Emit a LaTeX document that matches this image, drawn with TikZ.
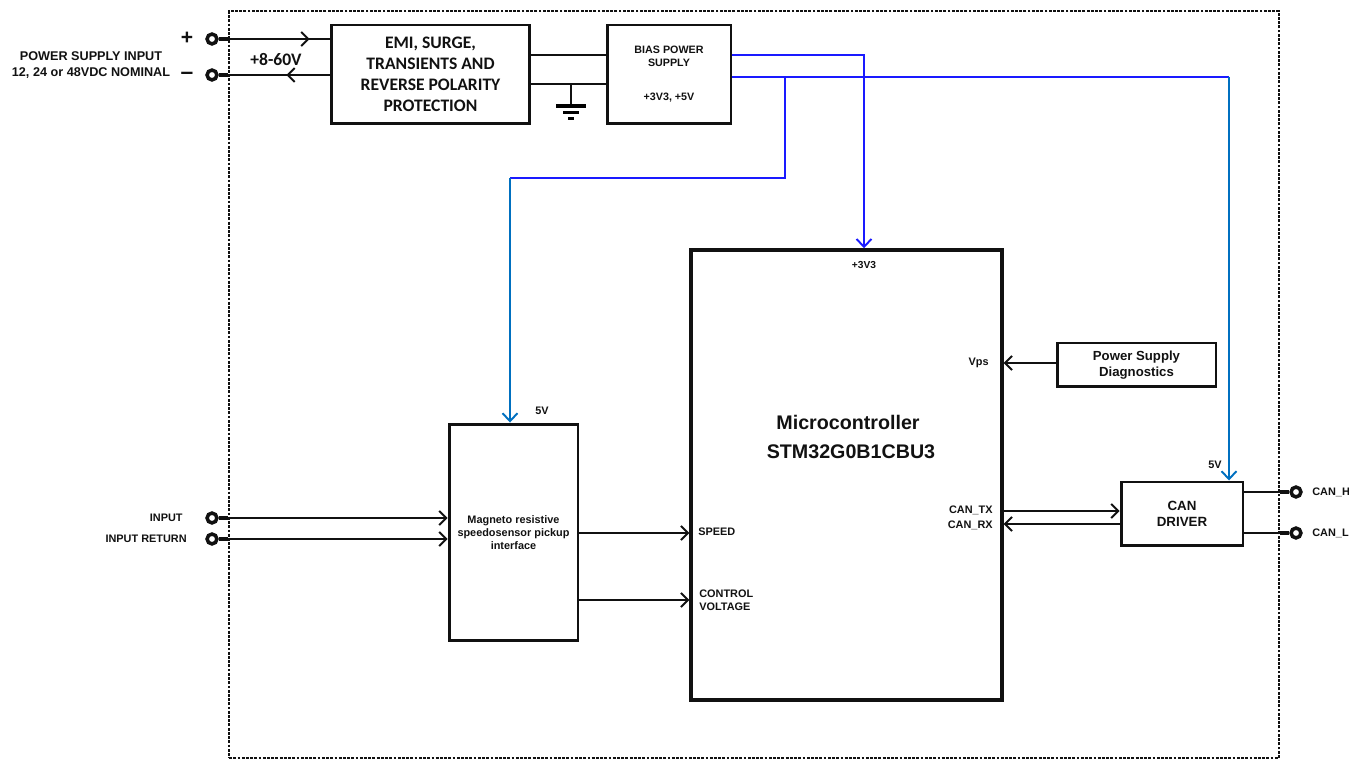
\documentclass[tikz,border=0pt]{standalone}
\usepackage{fontspec}
\setmainfont{Liberation Sans}
\newfontfamily\calfont{Carlito}
\usepackage{tikz}
\usetikzlibrary{arrows.meta,positioning,decorations.markings}
\definecolor{wireblue}{HTML}{1A1AFF}
\definecolor{railblue}{HTML}{0070C0}
\definecolor{ink}{HTML}{111111}
\newcommand{\fsz}[2]{\fontsize{#1}{#2}\selectfont}
\tikzset{
  blk/.style={draw=ink,line width=1.7pt,inner sep=0pt,align=center,text=ink},
  frame/.style={draw=ink,line width=0.7pt,dash pattern=on 1.6pt off 0.8pt},
  wire/.style={draw=ink,line width=1.1pt},
  flow/.style={wire,-{Straight Barb[length=4pt,width=8pt]}},
  pwr/.style={draw=wireblue,line width=1.1pt},
  pwrarrow/.style={pwr,-{Straight Barb[length=4.5pt,width=8.5pt]}},
  term/.style={circle,draw=ink,fill=white,line width=2pt,minimum size=5.6pt,inner sep=0pt},
  stub/.style={draw=ink,line width=2pt},
  midarrow/.style={postaction={decorate,decoration={markings,
    mark=at position #1 with {\arrow{Straight Barb[length=4pt,width=8pt]}}}}},
  lbl/.style={font=\bfseries\fsz{6.2}{7.4},text=ink,inner sep=0pt,align=center},
}

\begin{document}
\begin{tikzpicture}[x=0.02cm,y=-0.02cm]
  \useasboundingbox (0,0) rectangle (1349,759);
  \node[frame,minimum width=21cm,minimum height=14.94cm] (board) at (754,384.5) {};
  % blocks
  \node[blk,minimum width=3.98cm,minimum height=1.98cm,font=\calfont\bfseries\fsz{10}{12}] (emi) at (430.5,74.5)
    {EMI, SURGE,\\ TRANSIENTS AND\\ REVERSE POLARITY\\ PROTECTION};
  \node[blk,minimum width=2.48cm,minimum height=1.98cm,font=\bfseries\fsz{6.1}{7.4}] (bias) at (669,74.5)
    {BIAS POWER\\ SUPPLY\\[12pt] +3V3, +5V};
  \node[blk,line width=2pt,minimum width=6.22cm,minimum height=9cm] (mcu) at (846.5,475) {};
  \node[blk,minimum width=3.18cm,minimum height=0.88cm,font=\bfseries\fsz{7.5}{9.1}] (psd) at (1136.5,365)
    {Power Supply\\ Diagnostics};
  \node[blk,minimum width=2.44cm,minimum height=1.28cm,font=\bfseries\fsz{7.6}{9.1}] (can) at (1182,514)
    {CAN\\ DRIVER};
  \node[blk,minimum width=2.58cm,minimum height=4.34cm,font=\bfseries\fsz{6.2}{7.4}] (mag) at (513.5,532.5)
    {Magneto resistive\\ speedosensor pickup\\ interface};

  % microcontroller texts
  \node[lbl,font=\bfseries\fsz{11.2}{13}] (mcuname) at (848,422) {Microcontroller};
  \node[lbl,font=\bfseries\fsz{11.2}{13}] (mcupart) at (851,452) {STM32G0B1CBU3};
  \node[lbl,font=\bfseries\fsz{5.8}{7}] (p3v3) at (864,265) {+3V3};
  \node[lbl,anchor=east] (pvps) at (989,363) {Vps};
  \node[lbl,anchor=east] (ptx) at (993,510) {CAN\_TX};
  \node[lbl,anchor=east] (prx) at (993,525) {CAN\_RX};
  \node[lbl,anchor=west] (pspd) at (698,532) {SPEED};
  \node[lbl,anchor=west,align=left] (pctl) at (699,600) {CONTROL\\ VOLTAGE};
  \node[lbl] (p5va) at (542,411) {5V};
  \node[lbl] (p5vb) at (1215,465) {5V};

  % supply input
  \node[term] (vplus) at (212,39) {};
  \node[term] (vminus) at (212,75) {};
  \node[lbl,font=\bfseries\fsz{7.2}{9.1}] (psin) at (91,65) {POWER SUPPLY INPUT\\ 12, 24 or 48VDC NOMINAL};
  \node[lbl,font=\bfseries\fsz{12}{12}] (plus) at (187,38) {+};
  \node[lbl,font=\bfseries\fsz{13}{12}] (minus) at (187,76) {--};
  \node[lbl,font=\calfont\bfseries\fsz{10}{12}] (vrange) at (276,60) {+8-60V};
  \draw[wire,midarrow=0.82] (vplus) -- (emi.west |- vplus);
  \draw[wire,midarrow=0.39] (emi.west |- vminus) -- (vminus);
  \draw[stub] (vplus.east) -- (board.west |- vplus);
  \draw[stub] (vminus.east) -- (board.west |- vminus);

  % protection to bias supply, ground
  \draw[wire] (emi.east |- 0,55) -- (bias.west |- 0,55);
  \draw[wire] (emi.east |- 0,84) -- (bias.west |- 0,84);
  \coordinate (gnd) at (571,84);
  \draw[wire] (gnd) -- ++(0,22);
  \draw[line width=2.2pt] (556,106) -- (586,106);
  \draw[line width=1.7pt] (563,113) -- (579,113);
  \draw[line width=1.7pt] (568,119) -- (574,119);

  % rails
  \coordinate (railT) at (785,77);
  \coordinate (railR) at (1229,77);
  \coordinate (magtap) at (510,178);
  \draw[pwrarrow] (bias.east |- 0,55) -| (mcu.north -| 864,0);
  \draw[pwr] (bias.east |- 0,77) -- (railR);
  \draw[pwrarrow,draw=railblue] (railR) -- (can.north -| railR);
  \draw[pwr] (railT) |- (magtap);
  \draw[pwrarrow,draw=railblue] (magtap) -- (mag.north -| magtap);

  % sensor input
  \node[term] (inp) at (212,518) {};
  \node[term] (inret) at (212,539) {};
  \node[lbl,anchor=east] (linp) at (183,518) {INPUT};
  \node[lbl,anchor=east] (linret) at (187,539) {INPUT RETURN};
  \draw[flow] (inp) -- (mag.west |- inp);
  \draw[flow] (inret) -- (mag.west |- inret);
  \draw[stub] (inp.east) -- (board.west |- inp);
  \draw[stub] (inret.east) -- (board.west |- inret);
  \draw[flow] (mag.east |- 0,533) -- (mcu.west |- 0,533);
  \draw[flow] (mag.east |- 0,600) -- (mcu.west |- 0,600);

  % diagnostics and CAN
  \draw[flow] (psd.west |- 0,363) -- (mcu.east |- 0,363);
  \draw[flow] (mcu.east |- 0,511) -- (can.west |- 0,511);
  \draw[flow] (can.west |- 0,524) -- (mcu.east |- 0,524);
  \node[term] (canh) at (1296,492) {};
  \node[term] (canl) at (1296,533) {};
  \node[lbl,anchor=west] (lcanh) at (1312,492) {CAN\_H};
  \node[lbl,anchor=west] (lcanl) at (1312,533) {CAN\_L};
  \draw[wire] (can.east |- canh) -- (canh);
  \draw[wire] (can.east |- canl) -- (canl);
  \draw[stub] (board.east |- canh) -- (canh.west);
  \draw[stub] (board.east |- canl) -- (canl.west);
\end{tikzpicture}
\end{document}
